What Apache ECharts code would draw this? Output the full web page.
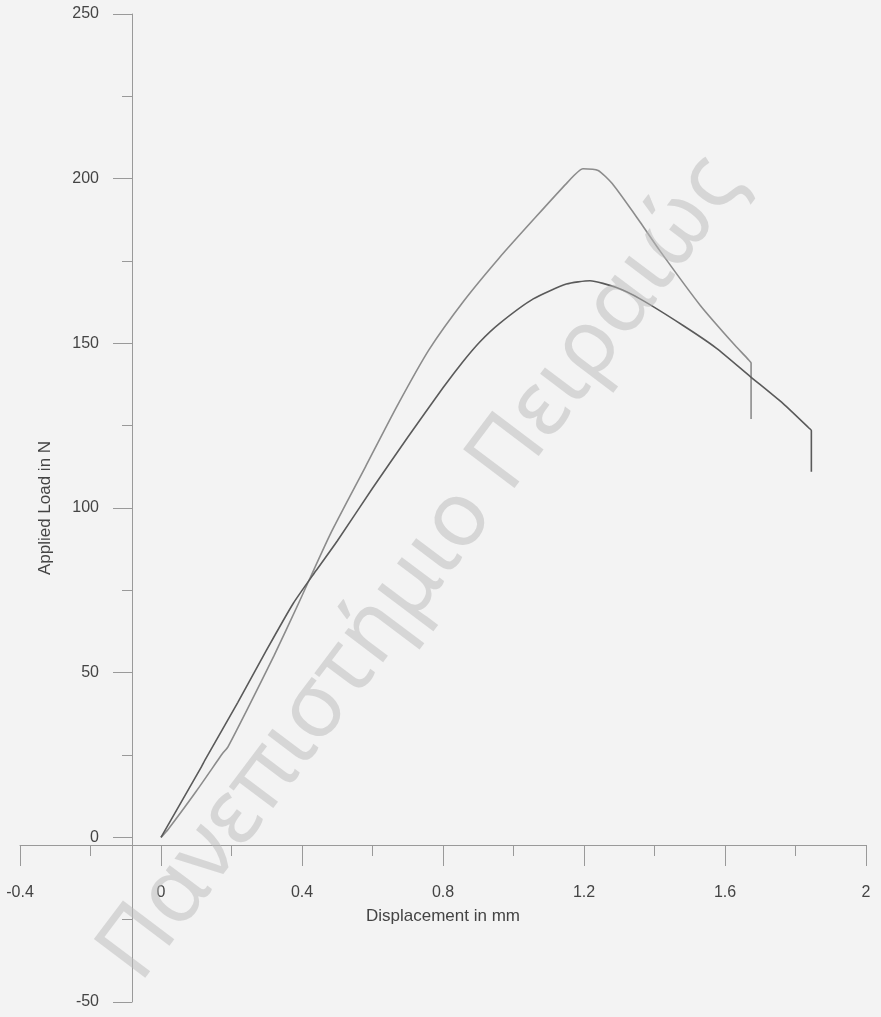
<!DOCTYPE html>
<html>
<head>
<meta charset="utf-8">
<script src="https://cdn.jsdelivr.net/npm/echarts@6/dist/echarts.min.js"></script>
<style>
  html, body { margin: 0; padding: 0; background: #f3f3f3; }
  #chart { width: 881px; height: 1017px; }
</style>
</head>
<body>
<div id="chart"></div>
<script>
// specimen with the higher peak (lighter line)
const dispA = [0, 0.02, 0.1, 0.165, 0.175, 0.19, 0.25, 0.32, 0.39, 0.48, 0.58, 0.67, 0.76, 0.86, 0.96, 1.056, 1.15, 1.197, 1.24, 1.28, 1.358, 1.416, 1.53, 1.623, 1.665, 1.674, 1.674, 1.674]
const loadA = [0, 2.4, 14, 24, 25.5, 27.5, 40, 55, 71, 92, 112.5, 131, 148, 163, 176, 187.5, 198.5, 203, 202.5, 198.5, 187, 178, 161.5, 150, 145.2, 144, 142, 127]

// specimen with the lower peak (darker line)
const dispB = [0, 0.115, 0.125, 0.218, 0.295, 0.375, 0.44, 0.5, 0.6, 0.7, 0.8, 0.857, 0.905, 0.96, 1.056, 1.15, 1.217, 1.29, 1.359, 1.48, 1.576, 1.671, 1.765, 1.838, 1.845, 1.845, 1.845]
const loadB = [0, 21.5, 23.5, 41, 56, 71, 81, 90, 106, 121.5, 136.5, 144.5, 150.5, 156, 163.5, 168, 169, 167, 163.5, 155.5, 148.5, 140, 131.7, 124.3, 123.5, 121.5, 111]

const xTicks = { min: -0.4, max: 2, step: 0.4 }
const yTicks = { min: -50, max: 250, step: 50 }

const pairs = (xs, ys) => xs.map((x, i) => [x, ys[i]])

const chart = echarts.init(document.getElementById('chart'))

chart.setOption({
  backgroundColor: '#f3f3f3',
  animation: false,
  textStyle: { fontFamily: 'Liberation Sans, Arial, sans-serif' },
  grid: { left: 20, right: 15, top: 14, bottom: 15 },
  graphic: [
    {
      type: 'text',
      x: 422,
      y: 568,
      rotation: 53 * Math.PI / 180,
      z: 100,
      style: {
        text: 'Πανεπιστήμιο Πειραιώς',
        font: '90px "Noto Sans", sans-serif',
        fill: 'rgba(185,185,185,0.5)',
        align: 'center',
        verticalAlign: 'middle'
      }
    }
  ],
  xAxis: {
    type: 'value',
    min: xTicks.min,
    max: xTicks.max,
    interval: xTicks.step,
    position: 'bottom',
    offset: -157,
    name: 'Displacement in mm',
    nameLocation: 'middle',
    nameGap: 63,
    nameTextStyle: { color: '#444', fontSize: 17 },
    axisLine: { onZero: false, lineStyle: { color: '#999', width: 1 } },
    axisTick: { length: 21, lineStyle: { color: '#999' } },
    minorTick: { show: true, splitNumber: 2, length: 11, lineStyle: { color: '#999' } },
    splitLine: { show: false },
    axisLabel: { color: '#444', fontSize: 16, margin: 40 }
  },
  yAxis: {
    type: 'value',
    min: yTicks.min,
    max: yTicks.max,
    interval: yTicks.step,
    position: 'left',
    offset: -112,
    name: 'Applied Load in N',
    nameLocation: 'middle',
    nameGap: 78,
    nameTextStyle: { color: '#444', fontSize: 17 },
    axisLine: { onZero: false, lineStyle: { color: '#999', width: 1 } },
    axisTick: { length: 19, lineStyle: { color: '#999' } },
    minorTick: { show: true, splitNumber: 2, length: 10, lineStyle: { color: '#999' } },
    splitLine: { show: false },
    axisLabel: { color: '#444', fontSize: 16, margin: 33 }
  },
  series: [
    {
      type: 'line',
      data: pairs(dispA, loadA),
      showSymbol: false,
      smooth: 0.2,
      lineStyle: { color: '#8c8c8c', width: 1.6 }
    },
    {
      type: 'line',
      data: pairs(dispB, loadB),
      showSymbol: false,
      smooth: 0.2,
      lineStyle: { color: '#5a5a5a', width: 1.6 }
    }
  ]
})
</script>
</body>
</html>
